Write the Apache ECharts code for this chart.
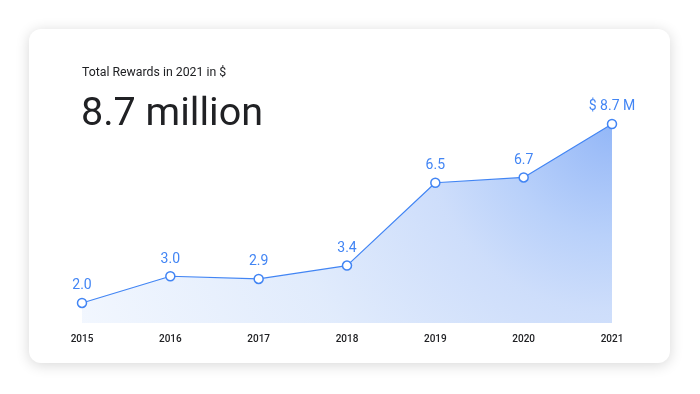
<!DOCTYPE html>
<html><head><meta charset="utf-8">
<script src="https://cdn.jsdelivr.net/npm/echarts@6/dist/echarts.min.js"></script>
<style>html,body{margin:0;padding:0;background:#fff}#c{width:700px;height:394px}</style>
</head><body><div id="c"></div>
<script>
const years = ['2015','2016','2017','2018','2019','2020','2021'];
const rewards = [2.0, 3.0, 2.9, 3.4, 6.5, 6.7, 8.7];
const labelsText = ['2.0','3.0','2.9','3.4','6.5','6.7','$ 8.7 M'];
const subtitle = 'Total Rewards in 2021 in $';
const headline = '8.7 million';

const chart = echarts.init(document.getElementById('c'), null, {renderer:'canvas'});
const blue = '#4285f4';
chart.setOption({
  animation:false,
  backgroundColor:'#ffffff',
  graphic:[
    {type:'rect', z:-10, shape:{x:29,y:29,width:641,height:334,r:12},
     style:{fill:'#fff', shadowBlur:14, shadowColor:'rgba(0,0,0,0.16)', shadowOffsetY:2}},
    {type:'text', left:82, top:67, style:{text:subtitle, font:'400 12.3px Roboto', fill:'#202124'}},
    {type:'text', left:81, top:95, style:{text:headline, font:'400 39.5px Roboto', fill:'#202124'}}
  ],
  grid:{left:82, right:88, top:124, bottom:71},
  xAxis:{type:'category', data:years, boundaryGap:false,
    axisLine:{show:false}, axisTick:{show:false}, splitLine:{show:false},
    axisLabel:{color:'#202124', fontSize:10, fontWeight:500, fontFamily:'Roboto', margin:11}},
  yAxis:{type:'value', min:1.25, max:8.7, show:false, splitLine:{show:false}},
  series:[{
    type:'line', data:rewards,
    symbol:'circle', symbolSize:9,
    itemStyle:{color:'#fff', borderColor:blue, borderWidth:1.5},
    lineStyle:{color:blue, width:1.2},
    areaStyle:{origin:'start', color:new echarts.graphic.RadialGradient(612,124,566,[
      {offset:0, color:'rgb(100,152,244)'},
      {offset:0.06, color:'rgb(118,163,245)'},
      {offset:0.2, color:'rgb(155,189,248)'},
      {offset:0.33, color:'rgb(184,207,249)'},
      {offset:0.6, color:'rgb(212,227,251)'},
      {offset:1, color:'rgb(236,243,254)'}], true)},
    label:{show:true, position:'top', distance:5, color:blue, fontSize:14, fontFamily:'Roboto',
      formatter:p=>labelsText[p.dataIndex]}
  }]
});
</script></body></html>
